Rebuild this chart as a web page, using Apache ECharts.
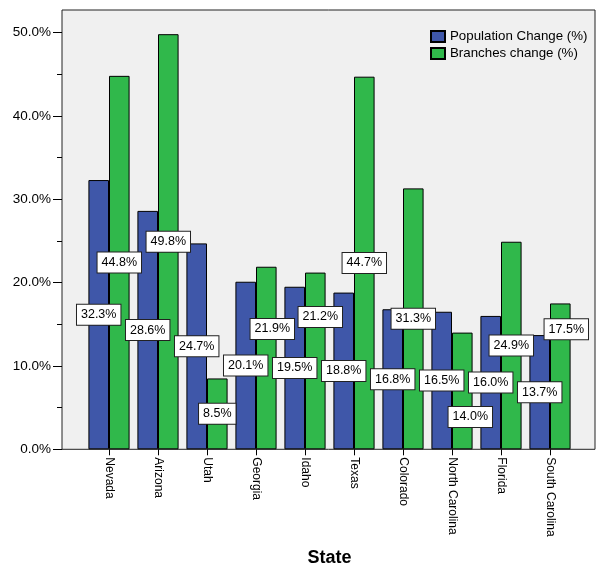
<!DOCTYPE html>
<html>
<head>
<meta charset="utf-8">
<script src="https://cdn.jsdelivr.net/npm/echarts@6/dist/echarts.min.js"></script>
<style>
  html, body { margin: 0; padding: 0; background: #fff; }
  #chart { width: 599px; height: 565px; }
</style>
</head>
<body>
<div id="chart"></div>
<script>
// Categories and values
const states = ['Nevada', 'Arizona', 'Utah', 'Georgia', 'Idaho', 'Texas', 'Colorado', 'North Carolina', 'Florida', 'South Carolina'];
const populationChange = [32.3, 28.6, 24.7, 20.1, 19.5, 18.8, 16.8, 16.5, 16.0, 13.7];
const branchesChange = [44.8, 49.8, 8.5, 21.9, 21.2, 44.7, 31.3, 14.0, 24.9, 17.5];
const seriesNames = ['Population Change (%)', 'Branches change (%)'];

// Branch labels that are nudged off their neighbours (pixels: [dx, dy])
const branchLabelNudge = {
  'Georgia': [6, -29],
  'Idaho': [5, -44],
  'North Carolina': [8, 26],
  'South Carolina': [6, -47]
};

// Layout of the framed plot box
const FONT = 'Liberation Sans, Arial, Helvetica, sans-serif';
const boxLeft = 62, boxRight = 4, boxTop = 10, boxBottom = 115.7;
const boxMax = 52.7;       // value at the top edge of the box
const axisMax = 50;        // highest labelled value
const chartH = 565;
const plotH = chartH - boxTop - boxBottom;
const innerTop = boxTop + (boxMax - axisMax) / boxMax * plotH;
const innerLeft = 84.5, innerRight = 24.5;

const dataLabel = {
  show: true,
  position: 'inside',
  formatter: p => p.value.toFixed(1) + '%',
  color: '#000',
  fontFamily: FONT,
  fontSize: 12.5,
  lineHeight: 14,
  backgroundColor: '#fff',
  borderColor: '#222',
  borderWidth: 1,
  padding: [3, 4, 3, 4]
};

const chart = echarts.init(document.getElementById('chart'), null, { renderer: 'canvas' });
chart.setOption({
  animation: false,
  backgroundColor: '#fff',
  textStyle: { fontFamily: FONT },
  legend: {
    data: seriesNames,
    orient: 'vertical',
    left: 430,
    top: 30,
    padding: 0,
    itemWidth: 14,
    itemHeight: 11,
    itemGap: 4,
    icon: 'rect',
    textStyle: { fontSize: 13.3, color: '#000', fontFamily: FONT }
  },
  grid: [
    {
      show: true,
      outerBoundsMode: 'none',
      containLabel: false,
      left: boxLeft, right: boxRight, top: boxTop, bottom: boxBottom,
      backgroundColor: '#f0f0f0',
      borderColor: '#222',
      borderWidth: 1
    },
    {
      outerBoundsMode: 'none',
      containLabel: false,
      left: innerLeft, right: innerRight, top: innerTop, bottom: boxBottom
    }
  ],
  xAxis: [
    { gridIndex: 0, type: 'value', min: 0, max: 1, show: false },
    {
      gridIndex: 1,
      type: 'category',
      data: states,
      axisLine: { show: false },
      axisTick: { show: true, alignWithLabel: true, length: 6, lineStyle: { color: '#000', width: 1 } },
      axisLabel: { rotate: -90, margin: 8, color: '#000', fontSize: 12, fontFamily: FONT },
      name: 'State',
      nameLocation: 'middle',
      nameGap: 100,
      nameTextStyle: { fontSize: 18, fontWeight: 'bold', color: '#000', fontFamily: FONT }
    }
  ],
  yAxis: [
    { gridIndex: 0, type: 'value', min: 0, max: boxMax, show: false },
    {
      gridIndex: 1,
      type: 'value',
      min: 0,
      max: axisMax,
      interval: 10,
      offset: innerLeft - boxLeft,
      axisLine: { show: false },
      axisTick: { show: true, length: 9, lineStyle: { color: '#000', width: 1 } },
      minorTick: { show: true, splitNumber: 2, length: 5, lineStyle: { color: '#000', width: 1 } },
      splitLine: { show: false },
      axisLabel: {
        formatter: v => v.toFixed(1) + '%',
        margin: 11,
        color: '#000',
        fontSize: 13.5,
        fontFamily: FONT
      }
    }
  ],
  series: [
    {
      name: seriesNames[0],
      type: 'bar',
      xAxisIndex: 1,
      yAxisIndex: 1,
      data: populationChange,
      barGap: '0%',
      barCategoryGap: '16%',
      itemStyle: { color: '#3f57a9', borderColor: '#000', borderWidth: 1 },
      label: dataLabel
    },
    {
      name: seriesNames[1],
      type: 'bar',
      xAxisIndex: 1,
      yAxisIndex: 1,
      data: branchesChange,
      barGap: '0%',
      barCategoryGap: '16%',
      itemStyle: { color: '#30b84b', borderColor: '#000', borderWidth: 1 },
      label: dataLabel,
      labelLayout: params => {
        const n = branchLabelNudge[states[params.dataIndex]];
        return n ? { dx: n[0], dy: n[1] } : {};
      }
    }
  ]
});
</script>
</body>
</html>
